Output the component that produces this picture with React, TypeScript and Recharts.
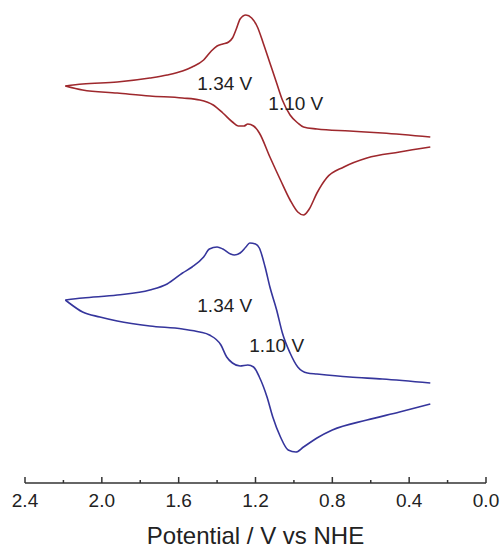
import React from 'react';
import { LineChart, Line, XAxis, YAxis, ReferenceDot } from 'recharts';

// Potential (V vs NHE) and current (a.u., curves offset vertically)
const redUpperV = [0.29, 0.54, 0.71, 0.88, 0.95, 0.98, 1.02, 1.06, 1.09, 1.125, 1.16, 1.19, 1.22, 1.25, 1.28, 1.30, 1.32, 1.34, 1.37, 1.40, 1.43, 1.47, 1.53, 1.58, 1.66, 1.75, 1.92, 2.10, 2.19];
const redUpperI = [34.6, 35.0, 35.2, 35.4, 35.6, 36.0, 36.8, 38.3, 40.0, 42.0, 44.0, 45.6, 46.5, 46.8, 46.4, 45.4, 44.5, 44.1, 43.9, 43.7, 43.2, 42.3, 41.6, 41.2, 40.8, 40.5, 40.1, 39.9, 39.7];
const redLowerV = [2.19, 2.10, 1.92, 1.75, 1.58, 1.49, 1.42, 1.37, 1.32, 1.29, 1.26, 1.24, 1.21, 1.18, 1.125, 1.07, 1.02, 0.98, 0.95, 0.92, 0.88, 0.83, 0.74, 0.62, 0.45, 0.29];
const redLowerI = [39.7, 39.3, 39.0, 38.7, 38.5, 38.3, 37.8, 37.0, 36.1, 35.7, 35.7, 35.9, 35.7, 35.0, 32.6, 30.3, 28.3, 27.1, 26.8, 27.4, 29.0, 30.5, 31.6, 32.5, 33.1, 33.6];

const blueUpperV = [0.29, 0.54, 0.71, 0.88, 0.93, 0.98, 1.02, 1.06, 1.09, 1.125, 1.15, 1.18, 1.20, 1.23, 1.25, 1.28, 1.31, 1.33, 1.37, 1.40, 1.44, 1.47, 1.53, 1.58, 1.66, 1.75, 1.92, 2.10, 2.19];
const blueUpperI = [10.0, 10.4, 10.6, 10.9, 11.0, 11.6, 13.0, 15.0, 17.3, 19.6, 21.6, 23.5, 23.9, 24.0, 23.6, 23.0, 22.8, 22.9, 23.4, 23.6, 23.4, 22.6, 21.6, 21.0, 19.9, 19.3, 18.8, 18.5, 18.3];
const blueLowerV = [2.19, 2.17, 2.10, 2.01, 1.92, 1.75, 1.58, 1.49, 1.44, 1.38, 1.35, 1.32, 1.28, 1.24, 1.21, 1.18, 1.14, 1.11, 1.07, 1.03, 0.99, 0.95, 0.88, 0.80, 0.62, 0.45, 0.29];
const blueLowerI = [18.3, 18.0, 17.1, 16.6, 16.2, 15.7, 15.4, 15.1, 14.8, 13.8, 12.6, 12.0, 11.7, 11.8, 11.6, 10.6, 8.6, 6.6, 4.6, 3.3, 3.1, 3.6, 4.5, 5.3, 6.3, 7.1, 7.9];

const majorTicks = [0, 0.4, 0.8, 1.2, 1.6, 2.0, 2.4];
const allTicks = [0, 0.2, 0.4, 0.6, 0.8, 1.0, 1.2, 1.4, 1.6, 1.8, 2.0, 2.2, 2.4];

const annotations = [
  { v: 1.36, i: 39.3, text: '1.34 V' },
  { v: 0.99, i: 37.3, text: '1.10 V' },
  { v: 1.36, i: 17.1, text: '1.34 V' },
  { v: 1.09, i: 13.1, text: '1.10 V' },
];

const RED = '#9e282d';
const BLUE = '#35359c';
const FONT = '"Liberation Sans", Arial, sans-serif';

function toPoints(v: number[], cur: number[]) {
  return v.map((x, k) => ({ v: x, i: cur[k] })).sort((a, b) => a.v - b.v);
}

const series = [
  { key: 'ru', data: toPoints(redUpperV, redUpperI), color: RED },
  { key: 'rl', data: toPoints(redLowerV, redLowerI), color: RED },
  { key: 'bu', data: toPoints(blueUpperV, blueUpperI), color: BLUE },
  { key: 'bl', data: toPoints(blueLowerV, blueLowerI), color: BLUE },
];

const AxisTick = (props: any) => {
  const { x, y, payload } = props;
  const val = payload.value as number;
  const major = majorTicks.some((m) => Math.abs(m - val) < 1e-6);
  return (
    <g>
      <line x1={x} x2={x} y1={y} y2={y - (major ? 6 : 3)} stroke="#333" strokeWidth={1.5} />
      {major && (
        <text x={x} y={y + 24} textAnchor="middle" fontSize={19} fill="#222" fontFamily={FONT}>
          {val.toFixed(1)}
        </text>
      )}
    </g>
  );
};

export default function App() {
  return (
    <div style={{ position: 'absolute', left: 0, top: 0, width: 502, height: 549, overflow: 'hidden', background: '#fff' }}>
      <LineChart width={502} height={549} margin={{ top: 13, right: 16, bottom: 0, left: 25 }} style={{ fontFamily: FONT }}>
        <XAxis
          type="number"
          dataKey="v"
          domain={[0, 2.4]}
          reversed
          ticks={allTicks}
          interval={0}
          tick={<AxisTick />}
          tickLine={false}
          tickSize={0}
          tickMargin={0}
          axisLine={{ stroke: '#333', strokeWidth: 1.5 }}
          height={66}
          allowDataOverflow
          label={{ value: 'Potential / V vs NHE', position: 'insideBottom', offset: 5, fontSize: 24, fill: '#222', fontFamily: FONT }}
        />
        <YAxis hide type="number" domain={[0, 47]} allowDataOverflow />
        {series.map((s) => (
          <Line
            key={s.key}
            data={s.data}
            dataKey="i"
            type="monotone"
            stroke={s.color}
            strokeWidth={1.6}
            dot={false}
            activeDot={false}
            isAnimationActive={false}
          />
        ))}
        {annotations.map((a, k) => (
          <ReferenceDot
            key={k}
            x={a.v}
            y={a.i}
            r={0}
            ifOverflow="visible"
            shape={(p: any) => (
              <text x={p.cx} y={p.cy} textAnchor="middle" fontSize={19} fill="#222" fontFamily={FONT}>
                {a.text}
              </text>
            )}
          />
        ))}
      </LineChart>
    </div>
  );
}
